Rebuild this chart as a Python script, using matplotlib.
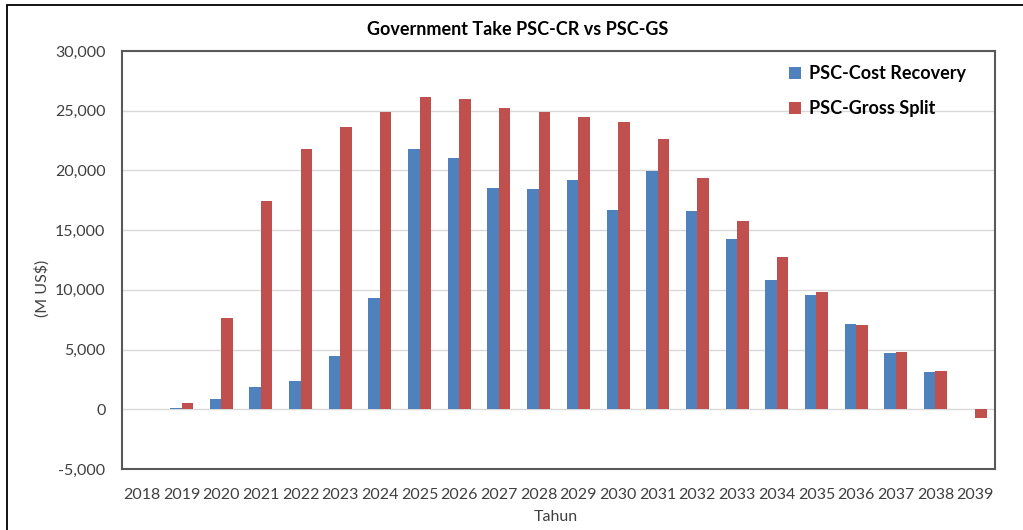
import numpy as np
import matplotlib.pyplot as plt
from matplotlib.patches import Rectangle

plt.rcParams['font.family'] = ['Lato', 'DejaVu Sans']

# Government take per year (M US$)
tahun = [str(y) for y in range(2018, 2040)]
psc_cr = [0, 100, 830, 1900, 2400, 4500, 9330, 21800, 21060, 18560, 18470,
          19170, 16670, 19920, 16580, 14250, 10830, 9580, 7170, 4750, 3080, 0]
psc_gs = [0, 500, 7670, 17400, 21830, 23650, 24870, 26170, 25950, 25220, 24870,
          24450, 24080, 22670, 19330, 15750, 12750, 9830, 7080, 4830, 3170, -750]

fig = plt.figure(figsize=(10.23, 5.30), dpi=100)
ax = fig.add_axes([0.1193, 0.1151, 0.8533, 0.7887])

# outer chart frame
fig.patches.append(Rectangle((7 / 1023, -0.1), 1.2, 1 - 5 / 530 + 0.1,
                             transform=fig.transFigure, fill=False,
                             edgecolor='black', linewidth=1.3))

x = np.arange(len(tahun))
w = 0.29
ax.bar(x - w / 2, psc_cr, w, color='#4F81BD', label='PSC-Cost Recovery', zorder=3)
ax.bar(x + w / 2, psc_gs, w, color='#C0504D', label='PSC-Gross Split', zorder=3)

ax.set_xlim(-0.5, len(tahun) - 0.5)
ax.set_ylim(-5000, 30000)
ax.set_yticks(range(-5000, 30001, 5000))
ax.yaxis.set_major_formatter(plt.FuncFormatter(lambda v, p: f'{v:,.0f}'))
ax.set_xticks(x)
ax.set_xticklabels(tahun)
ax.tick_params(axis='both', length=0, labelsize=11.5, colors='#404040', pad=12)
ax.tick_params(axis='x', pad=14)
ax.grid(axis='y', color='#D9D9D9', linewidth=1, zorder=0)

for s in ax.spines.values():
    s.set_color('#595959')
    s.set_linewidth(1.5)

fig.text(0.506, 0.944, 'Government Take PSC-CR vs PSC-GS', ha='center', va='center',
         fontsize=13, fontweight='bold')
fig.text(0.041, 0.455, '(M US$)', rotation=90, ha='center', va='center',
         fontsize=11.5, color='#404040')
fig.text(0.543, 0.025, 'Tahun', ha='center', va='center', fontsize=11.5, color='#404040')

leg = ax.legend(loc='upper right', bbox_to_anchor=(0.985, 1.005), frameon=False,
                prop={'weight': 'bold', 'size': 13}, handlelength=0.7,
                handleheight=0.7, handletextpad=0.4, labelspacing=1.0)

fig.savefig('out.png', dpi=100)
